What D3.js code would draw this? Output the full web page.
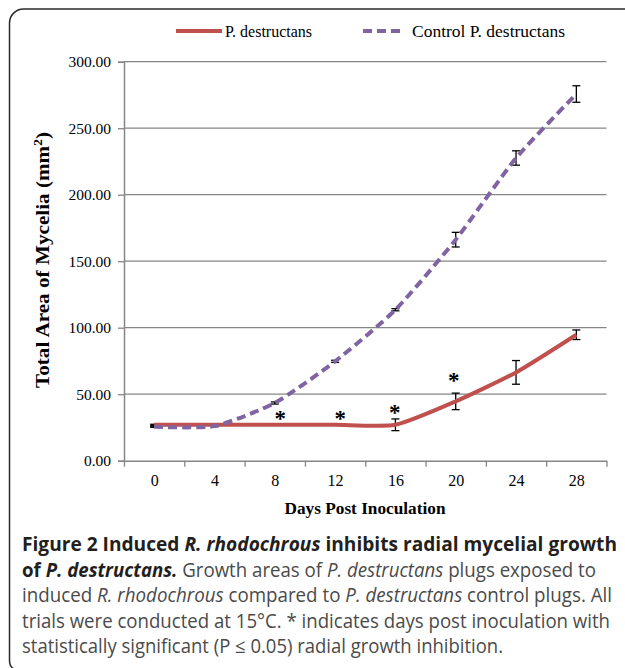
<!DOCTYPE html>
<html>
<head>
<meta charset="utf-8">
<script src="https://cdn.jsdelivr.net/npm/d3@7/dist/d3.min.js"></script>
<style>
  html, body { margin: 0; padding: 0; background: #fff; }
  svg { display: block; }
</style>
</head>
<body>
<svg id="chart" width="625" height="668"></svg>
<script>
// ---------- data ----------
const days = [0, 4, 8, 12, 16, 20, 24, 28];
const treated = [27, 27, 27, 27, 27, 44.6, 66.4, 94.7];
const treatedErr = [0.4, 0.4, 0.4, 0.4, 4.4, 6.2, 8.9, 3.6];
const control = [25.5, 26, 43.4, 74.7, 113.5, 166.2, 227.6, 275.7];
const controlErr = [0.4, 0.4, 0.8, 0.8, 0.8, 5.5, 5.4, 6.2];
const yTicks = [0, 50, 100, 150, 200, 250, 300];
const sigDay = [8.37, 12.34, 15.95, 19.87];
const sigValue = [35.3, 35.3, 39.8, 63.4];
const seriesNames = ["P. destructans", "Control P. destructans"];

// ---------- layout ----------
const svg = d3.select("#chart");
const RED = "#C0504D", PURPLE = "#8064A2", GRID = "#868686";
const serif = "'Liberation Serif', 'Times New Roman', serif";

const x = d3.scaleLinear().domain([-2, 30]).range([124, 606.5]);
const y = d3.scaleLinear().domain([0, 300]).range([460.7, 61.7]);

// frame
svg.append("path")
  .attr("d", "M9.5,660 Q9.5,667 14,669 M9.5,660 L9.5,23 A14,14 0 0 1 23.5,9 L640,9")
  .attr("fill", "none").attr("stroke", "#2b2b2b").attr("stroke-width", 1.5);

// gridlines
svg.append("g").selectAll("line").data(yTicks.filter(d => d > 0)).join("line")
  .attr("x1", x(-2)).attr("x2", x(30))
  .attr("y1", d => y(d)).attr("y2", d => y(d))
  .attr("stroke", GRID).attr("stroke-width", 1.3);

// y axis
const yAxis = svg.append("g").attr("transform", `translate(${x(-2)},0)`)
  .call(d3.axisLeft(y).tickValues(yTicks).tickSize(6).tickPadding(7).tickFormat(d3.format(".2f")));
yAxis.select(".domain").attr("stroke", GRID).attr("stroke-width", 1.5);
yAxis.selectAll(".tick line").attr("stroke", GRID).attr("stroke-width", 1.3);
yAxis.selectAll("text").attr("font-family", serif).attr("font-size", 15.5).attr("fill", "#000");

// x axis (boundary ticks)
const bounds = d3.range(-2, 31, 4);
const xAxis = svg.append("g").attr("transform", `translate(0,${y(0)})`)
  .call(d3.axisBottom(x).tickValues(bounds).tickSize(6).tickSizeOuter(0).tickFormat(""));
xAxis.select(".domain").attr("stroke", GRID).attr("stroke-width", 1.5);
xAxis.selectAll(".tick line").attr("stroke", GRID).attr("stroke-width", 1.3);

// x labels
const xLab = svg.append("g").attr("transform", `translate(0,${y(0)})`)
  .call(d3.axisBottom(x).tickValues(days).tickSize(0).tickPadding(14).tickFormat(d3.format("d")));
xLab.select(".domain").remove();
xLab.selectAll("text").attr("font-family", serif).attr("font-size", 16).attr("fill", "#000");

// axis titles
svg.append("text").attr("x", 365).attr("y", 514).attr("text-anchor", "middle")
  .attr("font-family", serif).attr("font-weight", "bold").attr("font-size", 17.5)
  .attr("textLength", 161).attr("lengthAdjust", "spacingAndGlyphs")
  .text("Days Post Inoculation");
const yt = svg.append("text").attr("transform", "translate(49,260) rotate(-90)")
  .attr("text-anchor", "middle").attr("font-family", serif).attr("font-weight", "bold").attr("font-size", 19)
  .attr("textLength", 256).attr("lengthAdjust", "spacingAndGlyphs");
yt.append("tspan").text("Total Area of Mycelia (mm");
yt.append("tspan").attr("font-size", 12).attr("dy", -7).text("2");
yt.append("tspan").attr("dy", 7).text(")");

// error bars
function errorBars(vals, errs) {
  const g = svg.append("g").attr("stroke", "#000").attr("stroke-width", 1.3);
  days.forEach((d, i) => {
    const cx = x(d), lo = y(vals[i] - errs[i]), hi = y(vals[i] + errs[i]);
    g.append("line").attr("x1", cx).attr("x2", cx).attr("y1", lo).attr("y2", hi);
    g.append("line").attr("x1", cx - 4).attr("x2", cx + 4).attr("y1", lo).attr("y2", lo);
    g.append("line").attr("x1", cx - 4).attr("x2", cx + 4).attr("y1", hi).attr("y2", hi);
  });
}
errorBars(treated, treatedErr);
errorBars(control, controlErr);

// lines
const line = d3.line().x((d, i) => x(days[i])).y(d => y(d)).curve(d3.curveCardinal.tension(0.4));
svg.append("path").datum(treated).attr("d", line)
  .attr("fill", "none").attr("stroke", RED).attr("stroke-width", 4);
svg.append("path").datum(control).attr("d", line)
  .attr("fill", "none").attr("stroke", PURPLE).attr("stroke-width", 4)
  .attr("stroke-dasharray", "9,5");

// significance asterisks
svg.append("g").selectAll("text").data(sigDay).join("text")
  .attr("x", d => x(d)).attr("y", (d, i) => y(sigValue[i]) + 12)
  .attr("text-anchor", "middle").attr("font-family", serif).attr("font-size", 23)
  .attr("font-weight", "bold").attr("fill", "#000").text("*");

// legend
const leg = [
  { x1: 176, x2: 222, tx: 225, tw: 87, color: RED, dash: null, name: seriesNames[0] },
  { x1: 363, x2: 404, tx: 412, tw: 153, color: PURPLE, dash: "9,5", name: seriesNames[1] }
];
leg.forEach(l => {
  svg.append("line").attr("x1", l.x1).attr("x2", l.x2).attr("y1", 31).attr("y2", 31)
    .attr("stroke", l.color).attr("stroke-width", 4).attr("stroke-dasharray", l.dash);
  svg.append("text").attr("x", l.tx).attr("y", 37).attr("font-family", serif)
    .attr("font-size", 16.5).attr("fill", "#000")
    .attr("textLength", l.tw).attr("lengthAdjust", "spacingAndGlyphs").text(l.name);
});

// caption
const cap = "'Open Sans', 'Noto Sans', sans-serif";
const captionLines = [
  { y: 551, w: 595, parts: [["Figure 2 Induced ", "b"], ["R. rhodochrous", "bi"], [" inhibits radial mycelial growth", "b"]] },
  { y: 577, w: 574, parts: [["of ", "b"], ["P. destructans.", "bi"], [" Growth areas of ", "r"], ["P. destructans", "i"], [" plugs exposed to", "r"]] },
  { y: 602, w: 590, parts: [["induced ", "r"], ["R. rhodochrous", "i"], [" compared to ", "r"], ["P. destructans", "i"], [" control plugs. All", "r"]] },
  { y: 628, w: 588, parts: [["trials were conducted at 15°C. * indicates days post inoculation with", "r"]] },
  { y: 653, w: 481, parts: [["statistically significant (P ≤ 0.05) radial growth inhibition.", "r"]] }
];
captionLines.forEach(cl => {
  const t = svg.append("text").attr("x", 22).attr("y", cl.y).attr("font-family", cap)
    .attr("font-size", 19.5).attr("textLength", cl.w).attr("lengthAdjust", "spacingAndGlyphs");
  cl.parts.forEach(([s, st]) => {
    t.append("tspan").text(s)
      .attr("font-weight", st.includes("b") ? "bold" : "normal")
      .attr("font-style", st.includes("i") ? "italic" : "normal")
      .attr("fill", st.includes("b") ? "#231f20" : "#4a4a4a");
  });
});
</script>
</body>
</html>
